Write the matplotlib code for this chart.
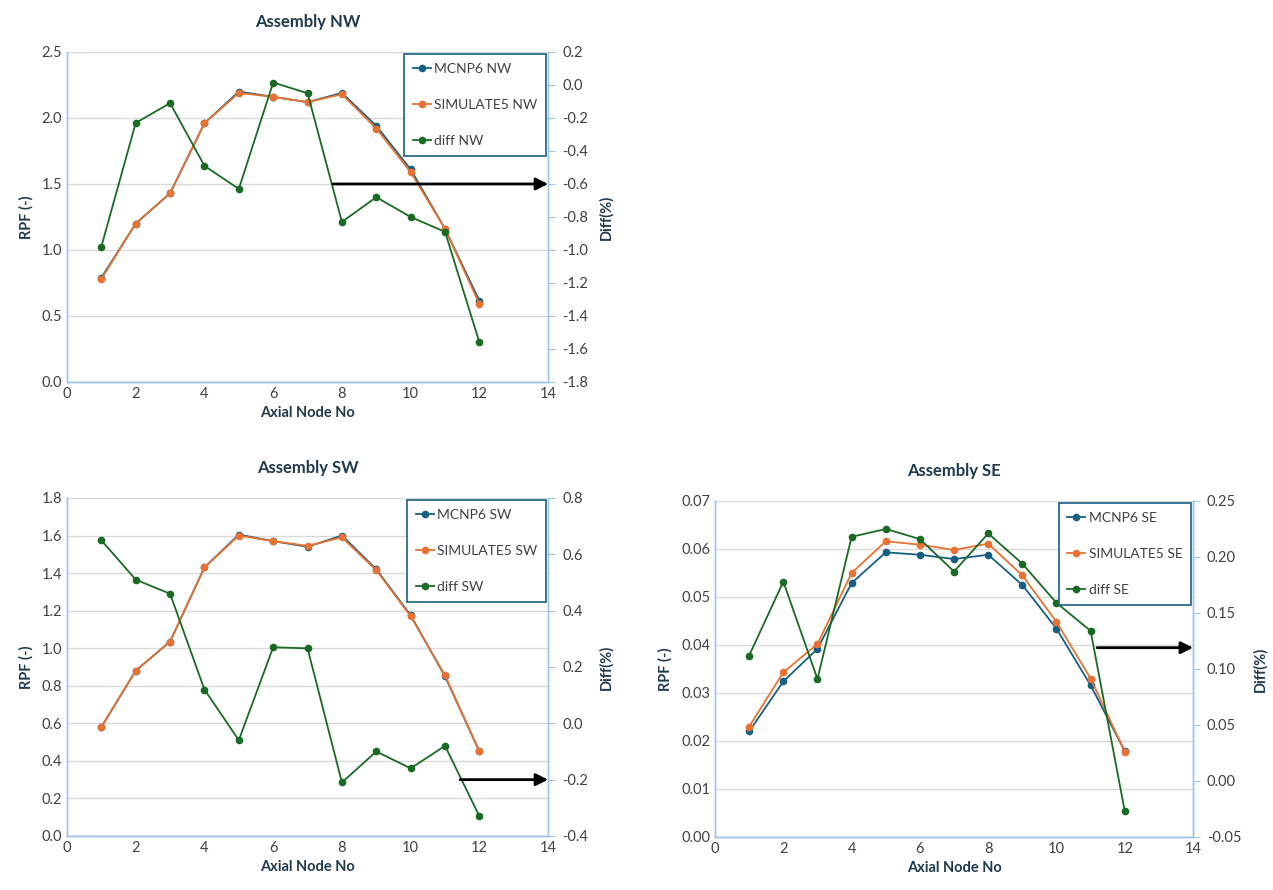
import matplotlib
matplotlib.use("Agg")
import matplotlib.pyplot as plt

plt.rcParams['font.family'] = ['Lato', 'DejaVu Sans']

nodes = [1, 2, 3, 4, 5, 6, 7, 8, 9, 10, 11, 12]

mcnp_nw = [0.79, 1.20, 1.43, 1.96, 2.20, 2.16, 2.12, 2.19, 1.94, 1.61, 1.16, 0.615]
sim_nw = [0.78, 1.20, 1.43, 1.96, 2.19, 2.16, 2.12, 2.18, 1.92, 1.59, 1.16, 0.59]
diff_nw = [-0.98, -0.23, -0.11, -0.49, -0.63, 0.015, -0.05, -0.83, -0.68, -0.80, -0.89, -1.56]

mcnp_sw = [0.58, 0.88, 1.035, 1.43, 1.605, 1.57, 1.54, 1.60, 1.42, 1.175, 0.85, 0.45]
sim_sw = [0.58, 0.88, 1.035, 1.43, 1.60, 1.57, 1.545, 1.59, 1.415, 1.17, 0.855, 0.45]
diff_sw = [0.65, 0.51, 0.46, 0.12, -0.06, 0.27, 0.266, -0.21, -0.10, -0.16, -0.08, -0.33]

mcnp_se = [0.0220, 0.0324, 0.0392, 0.0529, 0.0593, 0.0588, 0.0579, 0.0588, 0.0525, 0.0434, 0.0316, 0.0179]
sim_se = [0.0230, 0.0343, 0.0402, 0.0550, 0.0616, 0.0609, 0.0598, 0.0611, 0.0545, 0.0448, 0.0330, 0.0178]
diff_se = [0.112, 0.178, 0.091, 0.218, 0.225, 0.216, 0.187, 0.221, 0.194, 0.159, 0.134, -0.027]

BLUE = '#156082'
ORANGE = '#E97132'
GREEN = '#196B24'
SPINE = '#9DC3E6'
GRID = '#D9D9D9'
TXT = '#404040'
LABEL = '#1F3A4D'


def panel(rect, title, mcnp, sim, diff, names, ylim, yticks, yfmt,
          y2lim, y2ticks, y2fmt, arrow_from, arrow_y):
    ax = fig.add_axes(rect)
    ax2 = ax.twinx()
    ax.set_zorder(ax2.get_zorder() - 1)
    ax.patch.set_visible(True)
    ax.patch.set_facecolor('white')
    ax2.patch.set_visible(False)

    l1, = ax.plot(nodes, mcnp, color=BLUE, marker='o', ms=4.5, lw=1.3, label=names[0])
    l2, = ax.plot(nodes, sim, color=ORANGE, marker='o', ms=4.5, lw=1.3, label=names[1])
    l3, = ax2.plot(nodes, diff, color=GREEN, marker='o', ms=4.5, lw=1.3, label=names[2])

    ax.set_xlim(0, 14)
    ax.set_xticks(range(0, 15, 2))
    ax.set_ylim(*ylim)
    ax.set_yticks(yticks)
    ax.set_yticklabels([yfmt.format(v) for v in yticks])
    ax2.set_ylim(*y2lim)
    ax2.set_yticks(y2ticks)
    ax2.set_yticklabels([y2fmt.format(v) for v in y2ticks])

    ax.yaxis.grid(True, color=GRID, lw=1)
    ax.set_axisbelow(True)

    for a in (ax, ax2):
        a.spines['top'].set_visible(False)
        for s in ('left', 'right', 'bottom'):
            a.spines[s].set_color(SPINE)
            a.spines[s].set_linewidth(1.0)
        a.tick_params(colors=TXT, labelsize=10.5, length=0)
    ax2.tick_params(axis='y', length=5, color=SPINE, direction='out', pad=5)

    ax.set_title(title, fontsize=12, fontweight='bold', color=LABEL, pad=18)
    ax.set_xlabel('Axial Node No', fontsize=10.5, fontweight='bold', color=LABEL, labelpad=4)
    ax.set_ylabel('RPF (-)', fontsize=10.5, fontweight='bold', color=LABEL, labelpad=6)
    ax2.set_ylabel('Diff(%)', fontsize=10.5, fontweight='bold', color=LABEL, labelpad=8)

    leg = ax2.legend(handles=[l1, l2, l3], loc='upper right', bbox_to_anchor=(0.995, 0.993),
                     fontsize=10, frameon=True, fancybox=False, handlelength=1.3,
                     labelspacing=1.75, borderpad=0.6, handletextpad=0.25,
                     borderaxespad=0.0, framealpha=1.0)
    leg.get_frame().set_edgecolor(BLUE)
    leg.get_frame().set_linewidth(1.2)
    for t in leg.get_texts():
        t.set_color(TXT)

    ax2.annotate('', xy=(14, arrow_y), xytext=(arrow_from, arrow_y),
                 xycoords='data', textcoords='data',
                 arrowprops=dict(arrowstyle='-|>', color='black', lw=2.0,
                                 mutation_scale=18, shrinkA=0, shrinkB=0),
                 annotation_clip=False)
    return ax, ax2


fig = plt.figure(figsize=(12.73, 8.90), dpi=100)
fig.patch.set_facecolor('white')

panel([0.0526, 0.5708, 0.378, 0.3708], 'Assembly NW', mcnp_nw, sim_nw, diff_nw,
      ['MCNP6 NW', 'SIMULATE5 NW', 'diff NW'],
      (0, 2.5), [0, 0.5, 1.0, 1.5, 2.0, 2.5], '{:.1f}',
      (-1.8, 0.2), [-1.8, -1.6, -1.4, -1.2, -1.0, -0.8, -0.6, -0.4, -0.2, 0.0, 0.2], '{:.1f}',
      7.74, -0.6)

panel([0.0526, 0.0607, 0.378, 0.3798], 'Assembly SW', mcnp_sw, sim_sw, diff_sw,
      ['MCNP6 SW', 'SIMULATE5 SW', 'diff SW'],
      (0, 1.8), [0, 0.2, 0.4, 0.6, 0.8, 1.0, 1.2, 1.4, 1.6, 1.8], '{:.1f}',
      (-0.4, 0.8), [-0.4, -0.2, 0.0, 0.2, 0.4, 0.6, 0.8], '{:.1f}',
      11.44, -0.2)

panel([0.5617, 0.0596, 0.3755, 0.3775], 'Assembly SE', mcnp_se, sim_se, diff_se,
      ['MCNP6 SE', 'SIMULATE5 SE', 'diff SE'],
      (0, 0.07), [0, 0.01, 0.02, 0.03, 0.04, 0.05, 0.06, 0.07], '{:.2f}',
      (-0.05, 0.25), [-0.05, 0.0, 0.05, 0.10, 0.15, 0.20, 0.25], '{:.2f}',
      11.19, 0.119)

fig.savefig('out.png', dpi=100, facecolor='white')
